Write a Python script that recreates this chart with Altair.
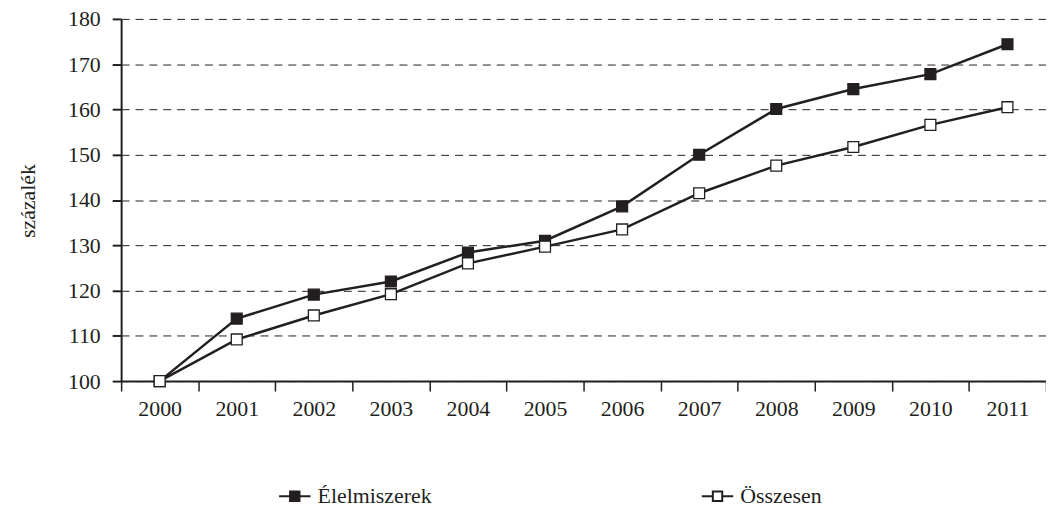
import altair as alt
import pandas as pd

years = ["2000", "2001", "2002", "2003", "2004", "2005",
         "2006", "2007", "2008", "2009", "2010", "2011"]
elelmiszerek = [100.0, 113.8, 119.1, 122.0, 128.4, 131.0,
                138.6, 150.0, 160.1, 164.5, 167.8, 174.4]
osszesen = [100.0, 109.2, 114.5, 119.2, 126.0, 129.7,
            133.5, 141.5, 147.6, 151.7, 156.6, 160.5]
series_names = ["Élelmiszerek", "Összesen"]
y_ticks = [100, 110, 120, 130, 140, 150, 160, 170, 180]

rows = []
for name, vals in zip(series_names, [elelmiszerek, osszesen]):
    for yr, v in zip(years, vals):
        rows.append({"year": yr, "value": v, "series": name})
df = pd.DataFrame(rows)

INK = "#231f20"
FONT = "Liberation Serif"

x_enc = alt.X(
    "year:O",
    sort=years,
    scale=alt.Scale(type="band", paddingInner=0, paddingOuter=0),
    axis=alt.Axis(
        title=None, labelAngle=0, tickBand="extent", grid=False,
        domainColor=INK, domainWidth=2, tickColor=INK, tickWidth=1.5,
        tickSize=10, labelPadding=8, labelFontSize=22, labelFont=FONT,
        labelColor=INK,
    ),
)
y_enc = alt.Y(
    "value:Q",
    scale=alt.Scale(domain=[100, 180], nice=False, zero=False),
    axis=alt.Axis(
        values=y_ticks, title="százalék", titleFont=FONT, titleFontSize=22,
        titleFontWeight="normal", titleColor=INK, titleAngle=-90,
        titleX=-94, titleY=183, titleAlign="center", titleBaseline="middle",
        grid=True, gridDash=[8, 6], gridColor=INK, gridWidth=1,
        domainColor=INK, domainWidth=2, tickColor=INK, tickWidth=2,
        tickSize=9, labelPadding=12, labelFontSize=22, labelFont=FONT,
        labelColor=INK,
    ),
)

line = alt.Chart(df).mark_line(color=INK, strokeWidth=2.5).encode(
    x=x_enc, y=y_enc, detail="series:N"
)

sym_path = "M-1,0H-0.3M0.3,0H1M-0.3,-0.3H0.3V0.3H-0.3Z"

points = alt.Chart(df).mark_point(
    shape="square", size=120, stroke=INK, strokeWidth=1.3, opacity=1,
    fillOpacity=1,
).encode(
    x=x_enc, y=y_enc,
    fill=alt.Fill(
        "series:N",
        scale=alt.Scale(domain=series_names, range=[INK, "white"]),
        legend=alt.Legend(
            title=None, orient="none", direction="horizontal", columns=2,
            legendX=158, legendY=464, columnPadding=268,
            symbolType=sym_path, symbolSize=1000, symbolStrokeColor=INK,
            symbolStrokeWidth=2, labelFont=FONT, labelFontSize=22,
            labelColor=INK, labelOffset=6, labelLimit=400, padding=0,
        ),
    ),
)

chart = (
    alt.layer(line, points)
    .properties(
        width=932, height=365,
        autosize=alt.AutoSizeParams(type="none"),
        padding={"left": 114, "top": 9, "right": 0, "bottom": 140},
        background="white",
    )
    .configure_view(stroke=None)
)

chart.save("out.html", embed_options={"renderer": "svg", "actions": False})
